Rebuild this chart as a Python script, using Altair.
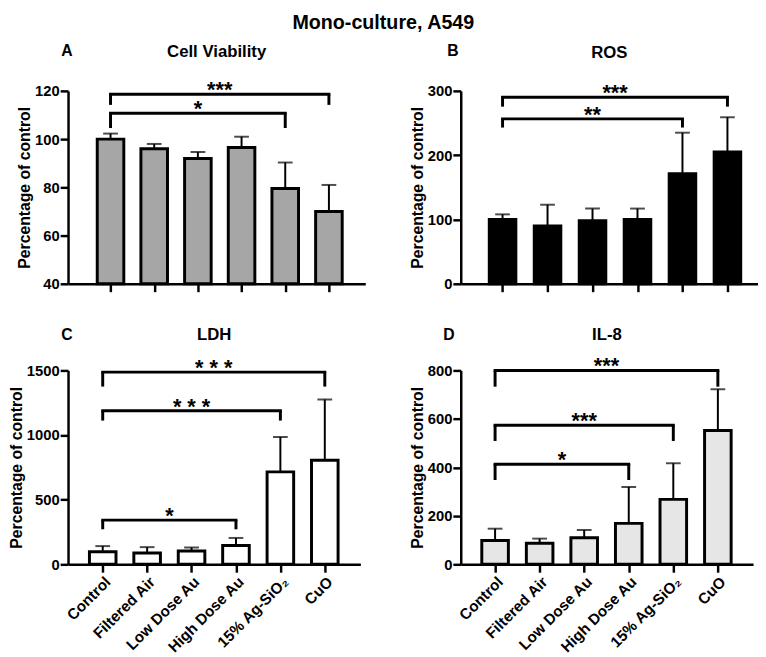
import altair as alt
import pandas as pd

categories = ["Control", "Filtered Air", "Low Dose Au", "High Dose Au", "15% Ag-SiO₂", "CuO"]

# Panel A - Cell Viability
via_mean = [100, 96, 92, 96.5, 79.5, 70]
via_top = [102.3, 98, 94.7, 101, 90.3, 81]
# Panel B - ROS
ros_mean = [100, 90, 98, 100, 171, 205]
ros_top = [108, 123, 117, 117, 235, 259]
# Panel C - LDH
ldh_mean = [97, 87, 103, 146, 715, 805]
ldh_top = [141, 133, 130, 204, 985, 1275]
# Panel D - IL-8
il8_mean = [98, 87, 110, 169, 268, 552]
il8_top = [147, 106, 142, 319, 417, 722]

# significance brackets: (from, to, bracket level, leg end, label)
via_sig = [("Control", "CuO", 118.6, 114.2, "***"), ("Control", "15% Ag-SiO₂", 110.7, 104.6, "*")]
ros_sig = [("Control", "CuO", 290, 275.5, "***"), ("Control", "15% Ag-SiO₂", 256.5, 243, "**")]
ldh_sig = [("Control", "CuO", 1487, 1375, "* * *"), ("Control", "15% Ag-SiO₂", 1188, 1112, "* * *"),
           ("Control", "High Dose Au", 342, 271, "*")]
il8_sig = [("Control", "CuO", 800, 733, "***"), ("Control", "15% Ag-SiO₂", 574, 509, "***"),
           ("Control", "High Dose Au", 413, 348, "*")]

FONT = "Liberation Sans"
IDX = {c: i for i, c in enumerate(categories)}
LABEL_EXPR = "[" + ",".join("'" + c + "'" for c in categories) + "][datum.value]"


def panel(title, letter, means, tops, sig, ydom, ystep, fill, width, height,
          show_labels, xdom, title_y, letter_xy):
    base_val = ydom[0]
    df = pd.DataFrame({"cat": categories, "i": list(range(len(categories))),
                       "mean": means, "top": tops})
    xscale = alt.Scale(domain=xdom, nice=False, zero=False)
    xaxis = alt.Axis(values=list(range(len(categories))), labels=show_labels,
                     labelExpr=LABEL_EXPR, labelAngle=-45, labelAlign="right",
                     labelBaseline="top", labelFontSize=15.5, labelFontWeight="bold",
                     labelColor="black", labelPadding=2, labelFont=FONT,
                     tickSize=8, tickWidth=2.5, tickColor="black", grid=False,
                     domainWidth=2.5, domainColor="black", title=None, labelOverlap=False,
                     labelFlush=False, labelBound=False)
    yscale = alt.Scale(domain=ydom, nice=False, zero=False)
    yaxis = alt.Axis(values=list(range(ydom[0], ydom[1] + 1, ystep)), grid=False, format="d",
                     title="Percentage of control", titleFontSize=16, titleFontWeight="bold",
                     titleFont=FONT, titleColor="black", titlePadding=2,
                     labelFontSize=15, labelFontWeight="bold", labelColor="black",
                     labelFont=FONT, tickSize=8, tickWidth=2.5, tickColor="black",
                     domainWidth=2.5, domainColor="black", labelPadding=1)
    base = alt.Chart(df)
    errs = base.mark_rule(color="black", strokeWidth=2).encode(
        x=alt.X("i:Q", scale=xscale, axis=xaxis),
        y=alt.Y("mean:Q", scale=yscale, axis=yaxis), y2="top:Q")
    caps = base.mark_tick(color="black", thickness=2, size=15, orient="horizontal").encode(
        x=alt.X("i:Q", scale=xscale), y=alt.Y("top:Q", scale=yscale))
    bars = base.mark_bar(fill=fill, stroke="black", strokeWidth=3, size=27).encode(
        x=alt.X("i:Q", scale=xscale), y=alt.Y("mean:Q", scale=yscale), y2=alt.datum(base_val))

    sdf = pd.DataFrame(sig, columns=["a", "b", "lvl", "leg", "lab"])
    sdf["ia"] = sdf["a"].map(IDX)
    sdf["ib"] = sdf["b"].map(IDX)
    legs = pd.concat([
        sdf[["ia", "lvl", "leg"]].rename(columns={"ia": "c"}),
        sdf[["ib", "lvl", "leg"]].rename(columns={"ib": "c"}),
    ])
    hbr = alt.Chart(sdf).mark_rule(color="black", strokeWidth=3, strokeCap="square").encode(
        x=alt.X("ia:Q", scale=xscale), x2="ib:Q", y=alt.Y("lvl:Q", scale=yscale))
    vbr = alt.Chart(legs).mark_rule(color="black", strokeWidth=3).encode(
        x=alt.X("c:Q", scale=xscale), y=alt.Y("lvl:Q", scale=yscale), y2="leg:Q")
    stars = alt.Chart(sdf).transform_calculate(
        mid="(datum.ia + datum.ib) / 2"
    ).mark_text(fontSize=22, fontWeight="bold", font=FONT, baseline="alphabetic", dy=3,
                color="black").encode(
        x=alt.X("mid:Q", scale=xscale), y=alt.Y("lvl:Q", scale=yscale), text="lab:N")
    ttl = alt.Chart(pd.DataFrame({"t": [title]})).mark_text(
        fontSize=17, fontWeight="bold", font=FONT, color="black", align="center",
        baseline="middle").encode(text="t:N", x=alt.value(width / 2), y=alt.value(title_y))
    lt = alt.Chart(pd.DataFrame({"t": [letter]})).mark_text(
        fontSize=16, fontWeight="bold", font=FONT, color="black", align="center",
        baseline="middle").encode(text="t:N", x=alt.value(letter_xy[0]), y=alt.value(letter_xy[1]))
    return alt.layer(errs, caps, bars, hbr, vbr, stars, ttl, lt).properties(
        width=width, height=height)


A = panel("Cell Viability", "A", via_mean, via_top, via_sig, [40, 120], 20, "#a6a6a6",
          302, 196, False, [-0.86, 5.72], -39, (-1, -40))
B = panel("ROS", "B", ros_mean, ros_top, ros_sig, [0, 300], 100, "#000000",
          302, 196, False, [-0.82, 5.57], -38, (-8, -40))
C = panel("LDH", "C", ldh_mean, ldh_top, ldh_sig, [0, 1500], 500, "#ffffff",
          297, 197, True, [-0.67, 5.69], -36, (-1, -36))
D = panel("IL-8", "D", il8_mean, il8_top, il8_sig, [0, 800], 200, "#e6e6e6",
          297, 197, True, [-0.66, 5.68], -36, (-12, -36))

chart = alt.concat(A, B, C, D, columns=2, spacing={"row": 33, "column": 44}).properties(
    title=alt.TitleParams("Mono-culture, A549", anchor="middle", fontSize=20,
                          fontWeight="bold", font=FONT, color="black", offset=11),
    padding=0,
).configure_view(stroke=None)

chart.save("out.html", embed_options={"renderer": "svg", "actions": False})
